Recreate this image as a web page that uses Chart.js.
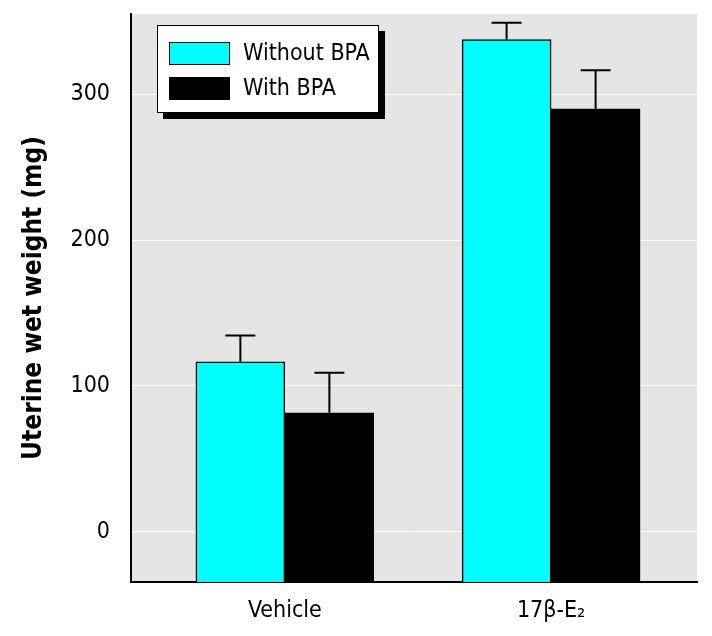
<!doctype html>
<html lang="en">
<head>
    <title>Uterine wet weight</title>
    <meta charset="UTF-8">
    <style>
        html, body { margin: 0; padding: 0; background: #fff; }
        #wrap { width: 712px; height: 636px; }
    </style>
</head>
<body>
    <div id="wrap"><canvas id="my-chart"></canvas></div>
<script src="https://cdn.jsdelivr.net/npm/chart.js@4.4.1/dist/chart.umd.min.js"></script>
<script>

    // data
    let groups = ['Vehicle', '17\u03B2-E\u2082']
    let groupPos = [1, 2]
    let withoutBPA = [116.5, 337.5]
    let withBPA = [81.5, 290]
    let errWithout = [18, 11.5]
    let errWith = [27.5, 26.5]
    let yTicks = [0, 100, 200, 300]

    let font = "'Liberation Sans Narrow', 'Arial Narrow', 'DejaVu Sans Condensed', sans-serif"
    let axisMin = -34.5

    let bgPlugin = {
        id: 'bg',
        beforeDraw(chart) {
            let a = chart.chartArea
            let ctx = chart.ctx
            ctx.save()
            ctx.fillStyle = '#e5e5e5'
            ctx.fillRect(a.left, a.top, a.right - a.left, a.bottom - a.top)
            ctx.restore()
        }
    }

    let errPlugin = {
        id: 'errbars',
        afterDatasetsDraw(chart) {
            let ctx = chart.ctx
            let ys = chart.scales.y
            ctx.save()
            ctx.strokeStyle = '#000'
            ctx.lineWidth = 2
            chart.data.datasets.forEach((ds, i) => {
                let meta = chart.getDatasetMeta(i)
                meta.data.forEach((bar, j) => {
                    let top = ys.getPixelForValue(ds.data[j].y + ds.errors[j])
                    ctx.beginPath()
                    ctx.moveTo(bar.x, bar.y)
                    ctx.lineTo(bar.x, top)
                    ctx.moveTo(bar.x - 15, top)
                    ctx.lineTo(bar.x + 15, top)
                    ctx.stroke()
                })
            })
            ctx.restore()
        }
    }

    let legendPlugin = {
        id: 'boxlegend',
        afterDraw(chart) {
            let ctx = chart.ctx
            let x = chart.chartArea.left + 26
            let y = chart.chartArea.top + 11
            let w = 222, h = 88
            ctx.save()
            ctx.fillStyle = '#000'
            ctx.fillRect(x + 6, y + 6, w, h)
            ctx.fillStyle = '#fff'
            ctx.fillRect(x, y, w, h)
            ctx.strokeStyle = '#000'
            ctx.lineWidth = 1
            ctx.strokeRect(x + 0.5, y + 0.5, w - 1, h - 1)
            ctx.font = '23px ' + font
            ctx.textBaseline = 'middle'
            chart.data.datasets.forEach((ds, i) => {
                let sy = y + 17 + i * 35
                ctx.fillStyle = ds.backgroundColor
                ctx.fillRect(x + 12, sy, 61, 23)
                ctx.strokeStyle = '#000'
                ctx.strokeRect(x + 12.5, sy + 0.5, 60, 22)
                ctx.fillStyle = '#000'
                ctx.fillText(ds.label, x + 86, sy + 12)
            })
            ctx.restore()
        }
    }

    let config = {
        type: 'bar',
        data: {
            datasets: [{
                label: 'Without BPA',
                data: groupPos.map((p, i) => ({ x: p, y: withoutBPA[i] })),
                errors: errWithout,
                backgroundColor: '#00ffff',
                borderColor: '#000',
                borderWidth: 1.5,
                base: axisMin,
                barThickness: 89
            }, {
                label: 'With BPA',
                data: groupPos.map((p, i) => ({ x: p, y: withBPA[i] })),
                errors: errWith,
                backgroundColor: '#000000',
                borderColor: '#000',
                borderWidth: 1,
                base: axisMin,
                barThickness: 89
            }]
        },
        options: {
            responsive: true,
            maintainAspectRatio: false,
            animation: false,
            layout: { padding: { top: 14, right: 15, left: 0, bottom: 0 } },
            plugins: { legend: { display: false }, tooltip: { enabled: false } },
            scales: {
                x: {
                    type: 'linear',
                    offset: false,
                    min: 0.422,
                    max: 2.548,
                    afterBuildTicks(scale) {
                        scale.ticks = groupPos.map(v => ({ value: v }))
                    },
                    afterFit(scale) { scale.height = 54 },
                    grid: { display: false, drawTicks: false, offset: false },
                    border: { display: true, color: '#000', width: 2 },
                    ticks: {
                        padding: 15,
                        color: '#000',
                        font: { family: font, size: 23 },
                        callback: (v) => groups[groupPos.indexOf(v)]
                    }
                },
                y: {
                    min: axisMin,
                    max: 355,
                    afterBuildTicks(scale) {
                        scale.ticks = yTicks.map(v => ({ value: v }))
                    },
                    afterFit(scale) { scale.width = 131 },
                    grid: { color: '#ffffff', lineWidth: 1, drawTicks: true, tickLength: 21, tickColor: 'rgba(0,0,0,0)' },
                    border: { display: true, color: '#000', width: 2 },
                    ticks: {
                        padding: 0,
                        color: '#000',
                        font: { family: font, size: 23 }
                    },
                    title: {
                        display: true,
                        text: 'Uterine wet weight (mg)',
                        color: '#000',
                        font: { family: font, size: 26, weight: 'bold' },
                        padding: { top: 19, bottom: 0 }
                    }
                }
            }
        },
        plugins: [bgPlugin, errPlugin, legendPlugin]
    }

    let myChart = new Chart(document.getElementById('my-chart'), config)

</script>
</body>
</html>
